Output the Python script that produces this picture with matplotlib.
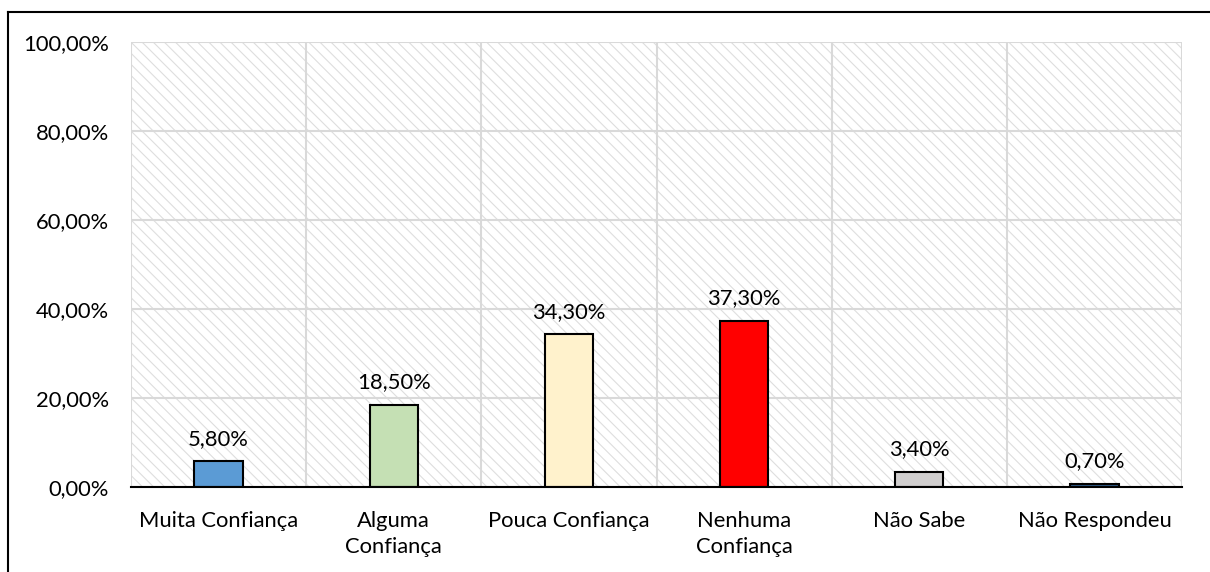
import matplotlib
matplotlib.use("Agg")
import matplotlib.pyplot as plt
from matplotlib.lines import Line2D
from matplotlib.patches import Rectangle

# data
categories = ["Muita Confiança", "Alguma\nConfiança", "Pouca Confiança",
              "Nenhuma\nConfiança", "Não Sabe", "Não Respondeu"]
values = [5.8, 18.5, 34.3, 37.3, 3.4, 0.7]
bar_colors = ["#5B9BD5", "#C5E0B4", "#FFF2CC", "#FF0000", "#D0CECE", "#2E5C8A"]
yticks = [0, 20, 40, 60, 80, 100]

plt.rcParams["font.family"] = ["Lato", "DejaVu Sans"]
plt.rcParams["hatch.linewidth"] = 0.8
plt.rcParams["hatch.color"] = "#dedede"

fig = plt.figure(figsize=(12.1, 5.72), dpi=100)
ax = fig.add_axes([131 / 1210, 1 - 487 / 572, (1182 - 131) / 1210, (487 - 42) / 572])

# hatched plot area background
ax.add_patch(Rectangle((0, 0), 1, 1, transform=ax.transAxes, facecolor="white",
                       edgecolor="#dedede", hatch="\\\\\\", linewidth=0, zorder=0))

x = list(range(len(categories)))
bars = ax.bar(x, values, width=0.275, color=bar_colors, edgecolor="black",
              linewidth=1.5, zorder=3)

labels = [f"{v:.2f}%".replace(".", ",") for v in values]
ax.bar_label(bars, labels=labels, padding=9, fontsize=15.8, color="#000000")

ax.set_xlim(-0.5, len(categories) - 0.5)
ax.set_ylim(0, 100)
ax.set_yticks(yticks)
ax.set_yticklabels([f"{t:.2f}%".replace(".", ",") for t in yticks], fontsize=15.8)
ax.set_xticks(x)
ax.set_xticklabels(categories, fontsize=15.8, linespacing=1.4)
ax.tick_params(axis="both", length=0)
ax.tick_params(axis="y", pad=16)
ax.tick_params(axis="x", pad=17)

# gridlines
for t in yticks:
    ax.axhline(t, color="#d9d9d9", linewidth=1.5, zorder=1)
for b in [i - 0.5 for i in range(len(categories) + 1)]:
    ax.axvline(b, color="#d9d9d9", linewidth=1.5, zorder=1)

for s in ["top", "right", "left"]:
    ax.spines[s].set_visible(False)
ax.spines["bottom"].set_color("black")
ax.spines["bottom"].set_linewidth(1.5)
ax.spines["bottom"].set_zorder(4)

# outer frame (left and top edges)
fig.add_artist(Line2D([8 / 1210, 8 / 1210], [0, 1 - 12 / 572], color="black",
                      linewidth=1.5, transform=fig.transFigure))
fig.add_artist(Line2D([8 / 1210, 1], [1 - 12 / 572, 1 - 12 / 572], color="black",
                      linewidth=1.5, transform=fig.transFigure))

fig.savefig("out.png", dpi=100)
